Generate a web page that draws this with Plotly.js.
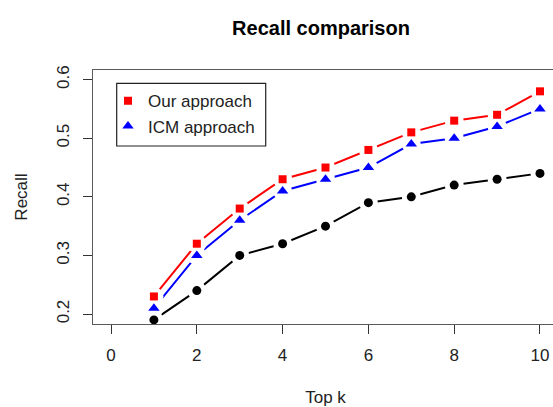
<!DOCTYPE html>
<html>
<head>
<meta charset="utf-8">
<script src="https://cdn.plot.ly/plotly-3.0.1.min.js"></script>
<style>
  html, body { margin: 0; padding: 0; overflow: hidden; background: #fff; }
  #chart { width: 558px; height: 407px; }
</style>
</head>
<body>
<div id="chart"></div>
<script>
// ---- data ----
var topK = [1, 2, 3, 4, 5, 6, 7, 8, 9, 10];
var ourApproach = [0.23, 0.32, 0.38, 0.43, 0.45, 0.48, 0.51, 0.53, 0.54, 0.58];
var icmApproach = [0.21, 0.30, 0.36, 0.41, 0.43, 0.45, 0.49, 0.50, 0.52, 0.55];
var baseline    = [0.19, 0.24, 0.30, 0.32, 0.35, 0.39, 0.40, 0.42, 0.43, 0.44];
var xTicks = [0, 2, 4, 6, 8, 10];
var yTicks = [0.2, 0.3, 0.4, 0.5, 0.6];
var yTickLabels = ['0.2', '0.3', '0.4', '0.5', '0.6'];

var FONT = 'Liberation Sans, Arial, sans-serif';

function lineTrace(y, color) {
  return { x: topK, y: y, type: 'scatter', mode: 'lines',
           line: { color: color, width: 2 }, showlegend: false, hoverinfo: 'skip' };
}
// white discs that open small gaps in a series' own line around its points (R type = "b")
function gapTrace(y) {
  return { x: topK, y: y, type: 'scatter', mode: 'markers',
           marker: { symbol: 'circle', size: 19, color: '#ffffff' },
           showlegend: false, hoverinfo: 'skip' };
}
function markerTrace(y, color, symbol, size, name, show, rank) {
  return { x: topK, y: y, type: 'scatter', mode: 'markers', name: name,
           marker: { symbol: symbol, size: size, color: color },
           showlegend: show, legendrank: rank };
}

var data = [
  lineTrace(baseline, '#000000'), gapTrace(baseline),
  lineTrace(icmApproach, '#0000ff'), gapTrace(icmApproach),
  lineTrace(ourApproach, '#ff0000'), gapTrace(ourApproach),
  markerTrace(baseline, '#000000', 'circle', 9, 'Baseline', false, 3),
  markerTrace(icmApproach, '#0000ff', 'triangle-up', 10, 'ICM approach', true, 2),
  markerTrace(ourApproach, '#ff0000', 'square', 8, 'Our approach', true, 1)
];

var layout = {
  width: 558, height: 407,
  margin: { l: 93, r: 0, t: 70, b: 83 },
  paper_bgcolor: '#ffffff', plot_bgcolor: '#ffffff',
  font: { family: FONT, size: 17, color: '#000000' },
  title: { text: '<b>Recall comparison</b>', font: { family: FONT, size: 20, color: '#000' },
           x: 321 / 558, xref: 'container', xanchor: 'center',
           y: 1 - 28 / 407, yref: 'container', yanchor: 'middle' },
  xaxis: {
    range: [-0.42, 10.42], tickvals: xTicks, ticktext: xTicks.map(String),
    ticks: 'outside', ticklen: 9, tickcolor: '#333', tickwidth: 1,
    ticklabelstandoff: 6,
    showline: true, linecolor: '#5a5a5a', linewidth: 1.3, mirror: true,
    showgrid: false, zeroline: false,
    tickfont: { family: FONT, size: 17, color: '#222' },
    title: { text: 'Top k', font: { family: FONT, size: 17, color: '#222' }, standoff: 28 }
  },
  yaxis: {
    range: [0.183, 0.6164], tickvals: yTicks, ticktext: yTickLabels,
    tickangle: -90,
    ticks: 'outside', ticklen: 9, tickcolor: '#333', tickwidth: 1,
    ticklabelstandoff: 7,
    showline: true, linecolor: '#5a5a5a', linewidth: 1.3, mirror: true,
    showgrid: false, zeroline: false,
    tickfont: { family: FONT, size: 17, color: '#222' },
    title: { text: 'Recall', font: { family: FONT, size: 17, color: '#222' }, standoff: 22 }
  },
  showlegend: true,
  legend: {
    x: (108 - 93) / 465, y: (324 - 83.3) / 254, xanchor: 'left', yanchor: 'top',
    bgcolor: 'rgba(0,0,0,0)', borderwidth: 0,
    font: { family: FONT, size: 17, color: '#222' },
    itemwidth: 30, traceorder: 'normal'
  },
  shapes: [{
    type: 'rect', xref: 'paper', yref: 'paper', layer: 'above',
    x0: (116.7 - 93) / 465, x1: (265.7 - 93) / 465,
    y0: (324 - 146) / 254, y1: (324 - 83.3) / 254,
    line: { color: '#222', width: 1.2 }, fillcolor: 'rgba(0,0,0,0)'
  }]
};

Plotly.newPlot('chart', data, layout, { displayModeBar: false, staticPlot: true });
</script>
</body>
</html>
